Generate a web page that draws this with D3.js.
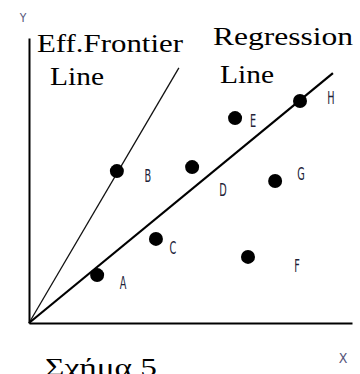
<!DOCTYPE html>
<html>
  <head>
    <meta charset="utf-8">
    <script src="https://cdn.jsdelivr.net/npm/d3@7/dist/d3.min.js"></script>
    <style>
      body { margin: 0; background: #fff; }
    </style>
  </head>
  <body>
    <svg width="360" height="374" id="mainsvg"></svg>
    <script>
      // points (x, y in 0-100 units)
      const names = ["A", "B", "C", "D", "E", "F", "G", "H"];
      const xs = [21.1, 27.2, 39.3, 50.5, 63.8, 67.8, 76.2, 83.9];
      const ys = [16.8, 53.3, 29.5, 54.7, 71.9, 23.2, 49.8, 77.9];
      // line end points (start at origin)
      const regressionEnd = [94.1, 87.7];
      const frontierEnd = [46.4, 89.5];

      const svg = d3.select("#mainsvg");
      const x = d3.scaleLinear().domain([0, 100]).range([29, 352]);
      const y = d3.scaleLinear().domain([0, 100]).range([323, 38]);

      // axes - plain lines, no ticks
      svg.append("g")
        .attr("transform", `translate(0, ${y(0)})`)
        .call(d3.axisBottom(x).tickValues([]).tickSizeOuter(0))
        .select(".domain").attr("stroke", "#000").attr("stroke-width", 2);
      svg.append("g")
        .attr("transform", `translate(${x(0)}, 0)`)
        .call(d3.axisLeft(y).tickValues([]).tickSizeOuter(0))
        .select(".domain").attr("stroke", "#000").attr("stroke-width", 2);

      const line = d3.line().x((d) => x(d[0])).y((d) => y(d[1]));

      svg.append("path")
        .attr("d", line([[0, 0], frontierEnd]))
        .attr("stroke", "#111")
        .attr("stroke-width", 1.3)
        .attr("fill", "none");

      svg.append("path")
        .attr("d", line([[0, 0], regressionEnd]))
        .attr("stroke", "#000")
        .attr("stroke-width", 2.2)
        .attr("fill", "none");

      const pts = names.map((n, i) => ({ name: n, x: xs[i], y: ys[i] }));

      svg.selectAll(".dot")
        .data(pts)
        .join("circle")
        .attr("class", "dot")
        .attr("cx", (d) => x(d.x))
        .attr("cy", (d) => y(d.y))
        .attr("r", 7)
        .attr("fill", "#000");

      // point labels sit right of and a bit below each dot
      const offs = { A: [26, 8], B: [31, 5], C: [17, 9], D: [31, 23], E: [18, 3], F: [49, 9], G: [26, -7], H: [31, -3] };
      svg.selectAll(".lbl")
        .data(pts)
        .join("text")
        .attr("class", "lbl")
        .attr("x", (d) => x(d.x) + offs[d.name][0])
        .attr("y", (d) => y(d.y) + offs[d.name][1])
        .attr("dy", "0.35em")
        .attr("text-anchor", "middle")
        .attr("font-family", "DejaVu Sans Condensed")
        .attr("font-size", 15)
        .attr("fill", "#222238")
        .attr("transform-origin", (d) => `${x(d.x) + offs[d.name][0]} ${y(d.y) + offs[d.name][1]}`)
        .attr("transform", "scale(0.72, 1.15)")
        .text((d) => d.name);

      const big = [
        { t: "Eff.Frontier", x: 37, y: 52, w: 146 },
        { t: "Line", x: 50, y: 85, w: 54 },
        { t: "Regression", x: 213, y: 45, w: 140 },
        { t: "Line", x: 220, y: 83, w: 54 },
        { t: "Σχήμα 5", x: 45, y: 376, w: 112 }
      ];
      svg.selectAll(".big")
        .data(big)
        .join("text")
        .attr("class", "big")
        .attr("x", (d) => d.x)
        .attr("y", (d) => d.y)
        .attr("font-family", "'Liberation Serif', 'DejaVu Serif', serif")
        .attr("font-size", 26)
        .attr("fill", "#000")
        .attr("textLength", (d) => d.w)
        .attr("lengthAdjust", "spacingAndGlyphs")
        .text((d) => d.t);

      svg.append("text").attr("x", 23).attr("y", 22).attr("text-anchor", "middle")
        .attr("font-family", "DejaVu Sans Condensed").attr("font-size", 12)
        .attr("fill", "#55557a").text("Y");
      svg.append("text").attr("x", 343).attr("y", 363).attr("text-anchor", "middle")
        .attr("font-family", "DejaVu Sans Condensed").attr("font-size", 14)
        .attr("fill", "#55557a").text("X");
    </script>
  </body>
</html>
